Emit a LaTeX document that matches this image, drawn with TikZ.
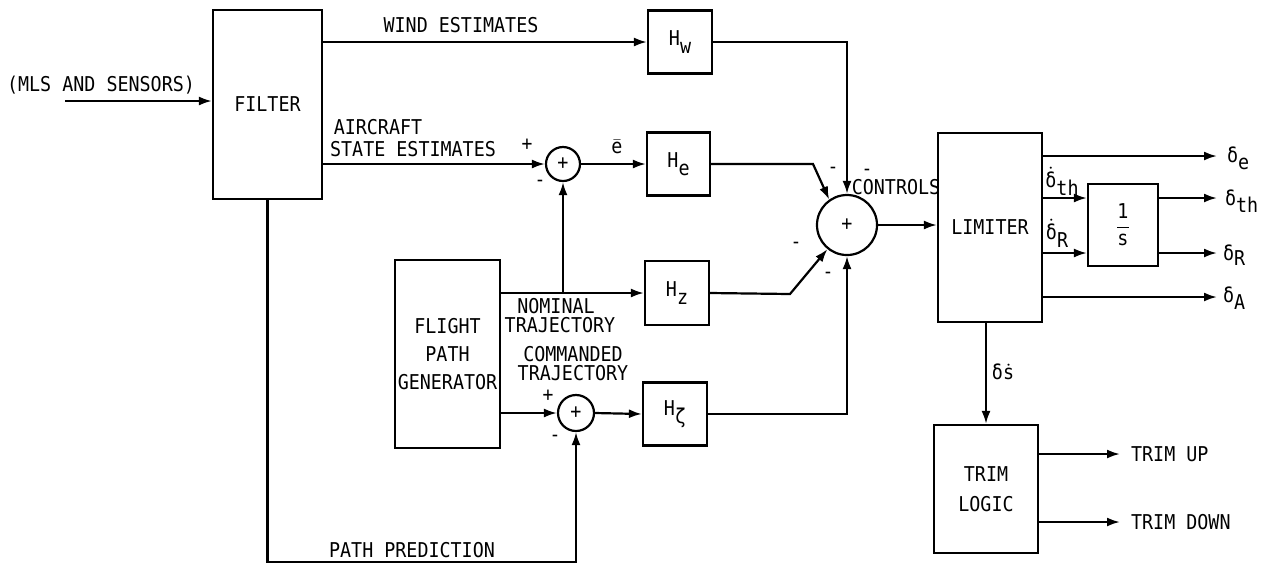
\documentclass[tikz,border=0pt]{standalone}
\usepackage{amsmath}
\usepackage{fontspec}
\setmainfont{DejaVu Sans Mono}[FakeStretch=0.9]
\usetikzlibrary{arrows.meta}

\begin{document}
\begin{tikzpicture}[x=0.5pt, y=-0.5pt, >={Latex[length=6.5pt,width=4.5pt]},
  line width=1.1pt, font=\fontsize{10.2}{14}\selectfont,
  blk/.style={draw, line width=1.1pt, inner sep=0pt, align=center},
  sumnode/.style={draw, circle, line width=1.1pt, inner sep=0pt},
  lbl/.style={inner sep=0pt},
  sgn/.style={inner sep=0pt, font=\fontsize{10}{10}\selectfont}]
\useasboundingbox (0,0) rectangle (1264,570);

% blocks
\node[blk, minimum width=54.5pt, minimum height=94.5pt] (filter) at (267.5,104.5) {FILTER};
\node[blk, minimum width=32pt, minimum height=31.5pt] (hw) at (680,42) {H\raisebox{-0.7ex}{w}};
\node[blk, minimum width=31.5pt, minimum height=31.5pt] (he) at (678.5,164) {H\raisebox{-0.7ex}{e}};
\node[blk, minimum width=32pt, minimum height=32pt] (hz) at (677,293) {H\raisebox{-0.7ex}{z}};
\node[blk, minimum width=32pt, minimum height=31.5pt] (hzeta) at (675,414) {H\raisebox{-0.7ex}{ζ}};
\node[blk, minimum width=52.5pt, minimum height=94pt] (fpg) at (447.5,354) {FLIGHT\\PATH\\GENERATOR};
\node[blk, minimum width=52pt, minimum height=94.5pt] (lim) at (990,227.5) {LIMITER};
\node[blk, minimum width=35pt, minimum height=41pt] (integ) at (1123,225) {$\dfrac{\text{1}}{\text{s}}$};
\node[blk, minimum width=52pt, minimum height=64pt, font=\fontsize{10.2}{15}\selectfont] (trim) at (986,489) {TRIM\\LOGIC};

% summing junctions
\node[sumnode, minimum size=17pt] (s1) at (563,164) {+};
\node[sumnode, minimum size=18pt] (s2) at (576,413) {+};
\node[sumnode, minimum size=30pt] (sum) at (847,225) {+};

% free ends
\coordinate (in) at (65,101);
\coordinate (hebend) at (813,164);
\coordinate (hzbend) at (790,294);
\coordinate (pp) at (267.5,562);
\coordinate (oe) at (1217,156);
\coordinate (oth) at (1217,198);
\coordinate (oR) at (1217,253);
\coordinate (oA) at (1217,297);
\coordinate (ith) at ([yshift=13.5pt]integ.west);
\coordinate (iR) at ([yshift=-14pt]integ.west);
\coordinate (tup) at (1120,454);
\coordinate (tdn) at (1120,522);

% connectors
\draw[->] (in) -- (in -| filter.west);
\draw[->] (filter.east |- hw.west) -- (hw.west);
\draw[->] (hw.east) -| (sum.north);
\draw[->] (filter.east |- s1.west) -- (s1.west);
\draw[->] (s1.east) -- (he.west);
\draw[->] (he.east) -- (hebend) -- (sum.125);
\draw[->] (fpg.east |- hz.west) -- (hz.west);
\draw[->] (s1.south |- hz.west) -- (s1.south);
\draw[->] (hz.east) -- (hzbend) -- (sum.231);
\draw[->] (fpg.east |- s2.west) -- (s2.west);
\draw[->] (s2.east) -- (hzeta.west);
\draw[->] (hzeta.east) -| (sum.south);
\draw[->] (filter.south) -- (pp) -| (s2.south);
\draw[->] (sum.east) -- (sum.east -| lim.west);
\draw[->] (lim.east |- oe) -- (oe);
\draw[->] (lim.east |- ith) -- (ith);
\draw[->] (lim.east |- iR) -- (iR);
\draw[->] (lim.east |- oA) -- (oA);
\draw[->] (integ.east |- oth) -- (oth);
\draw[->] (integ.east |- oR) -- (oR);
\draw[->] (lim.south -| trim.north) -- (trim.north);
\draw[->] (trim.east |- tup) -- (tup);
\draw[->] (trim.east |- tdn) -- (tdn);

% labels
\node[lbl] (mls) at (101,85) {(MLS AND SENSORS)};
\node[lbl] (wind) at (461,25) {WIND ESTIMATES};
\node[lbl] (acft) at (378,127) {AIRCRAFT};
\node[lbl] (state) at (413,149) {STATE ESTIMATES};
\node[lbl] (ebar) at (617,147) {$\bar{\text{e}}$};
\node[lbl] (nom) at (556,306) {NOMINAL};
\node[lbl] (nomtr) at (560,325) {TRAJECTORY};
\node[lbl] (cmd) at (573,354) {COMMANDED};
\node[lbl] (cmdtr) at (573,373) {TRAJECTORY};
\node[lbl] (ctrl) at (896,187) {CONTROLS};
\node[lbl] (path) at (412,550) {PATH PREDICTION};
\node[lbl] (dth) at (1062,181) {$\dot{\text{δ}}$\raisebox{-0.7ex}{th}};
\node[lbl] (dR) at (1057,233) {$\dot{\text{δ}}$\raisebox{-0.7ex}{R}};
\node[lbl] (dsd) at (1003,372) {δ$\dot{\text{s}}$};
\node[lbl, anchor=west] (le) at (1226,158) {δ\raisebox{-0.6ex}{e}};
\node[lbl, anchor=west] (lth) at (1224,201) {δ\raisebox{-0.6ex}{th}};
\node[lbl, anchor=west] (lR) at (1222,255) {δ\raisebox{-0.4ex}{R}};
\node[lbl, anchor=west] (lA) at (1222,298) {δ\raisebox{-0.6ex}{A}};
\node[lbl, anchor=west] (lup) at (1130,454) {TRIM UP};
\node[lbl, anchor=west] (ldn) at (1130,522) {TRIM DOWN};

% signs
\node[sgn] (p1) at (527,145) {+};
\node[sgn] (m1) at (540,183) {-};
\node[sgn] (p2) at (548,396) {+};
\node[sgn] (m2) at (555,438) {-};
\node[sgn] (m3) at (833,170) {-};
\node[sgn] (m4) at (867,172) {-};
\node[sgn] (m5) at (796,245) {-};
\node[sgn] (m6) at (828,275) {-};
\end{tikzpicture}
\end{document}
